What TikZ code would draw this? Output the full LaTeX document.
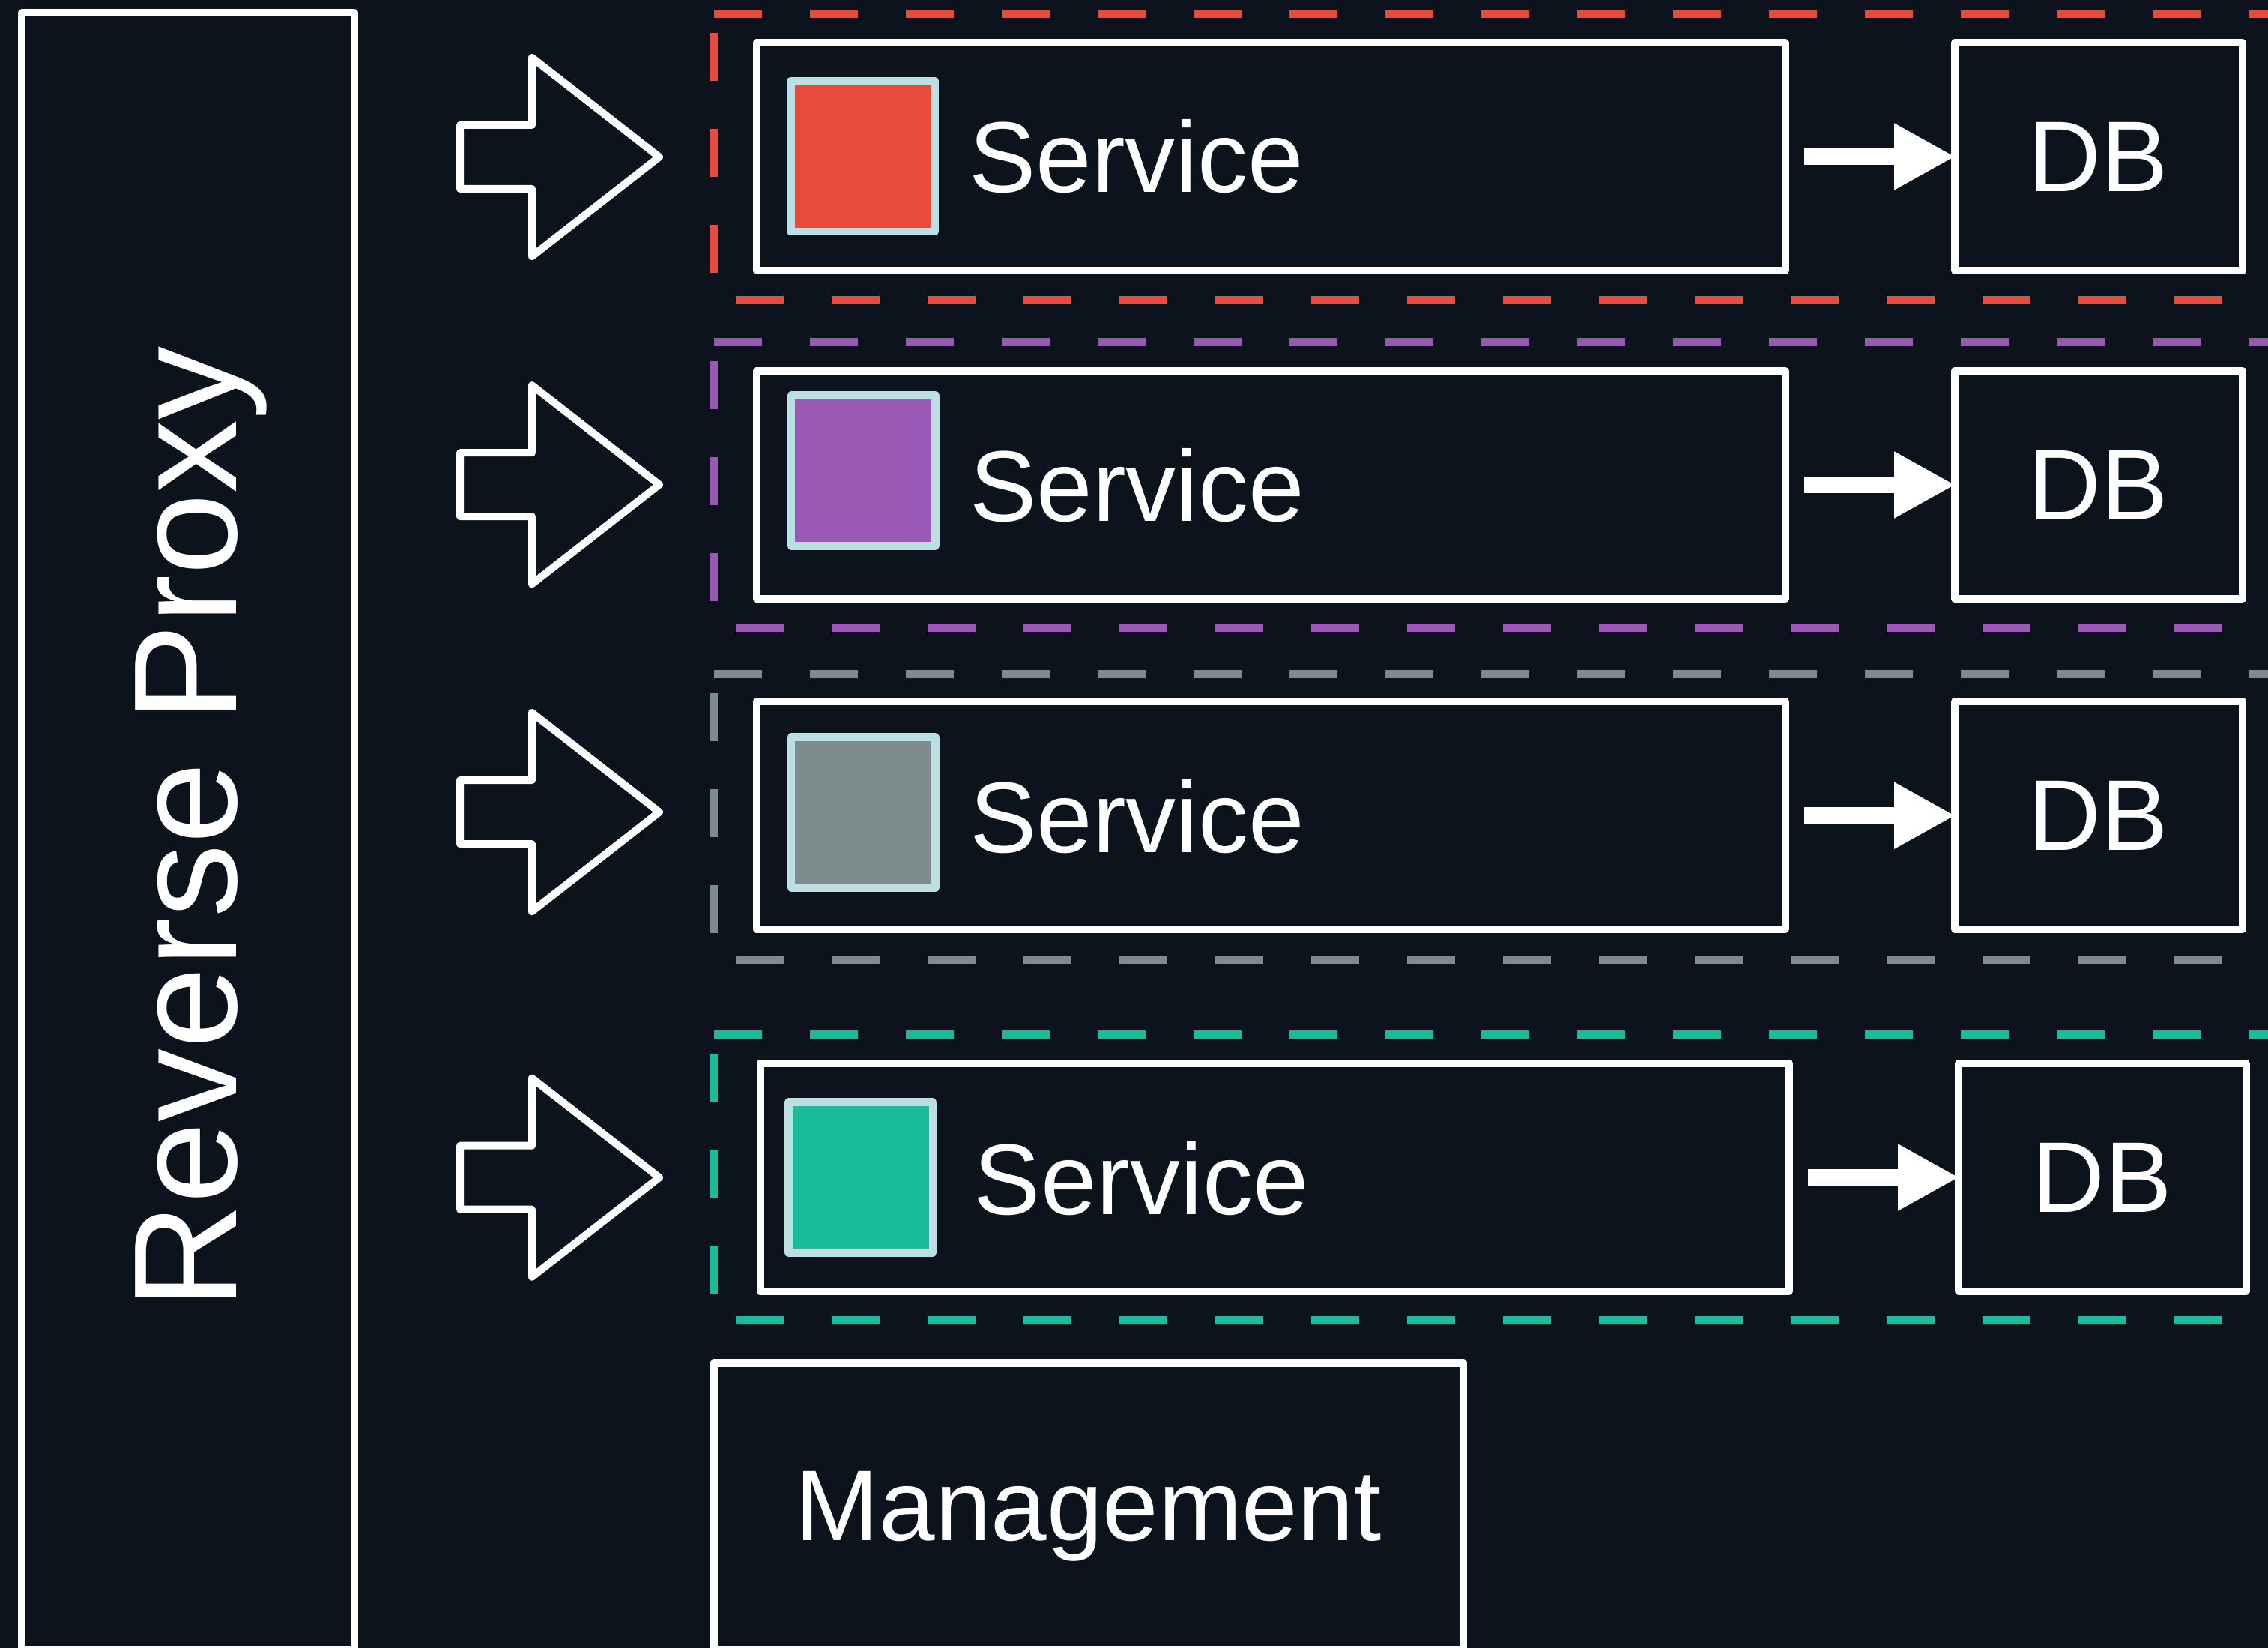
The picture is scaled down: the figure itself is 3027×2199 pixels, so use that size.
\documentclass[tikz,border=0pt]{standalone}
\usepackage{fontspec}
\setmainfont{Liberation Sans}
\usetikzlibrary{arrows.meta}

\definecolor{canvas}{RGB}{12,19,29}
\definecolor{svcred}{HTML}{E74C3C}
\definecolor{svcpurple}{HTML}{9B59B6}
\definecolor{svcgrey}{HTML}{7F8C8D}
\definecolor{svcteal}{HTML}{1ABC9C}
\definecolor{chipedge}{HTML}{BAE0E4}

\begin{document}
\begin{tikzpicture}[x=1pt, y=-1pt,
  box/.style={rectangle, draw=white, line width=10pt, line join=round,
    fill=canvas, inner sep=0pt, outer sep=0pt, text=white},
  svcbox/.style={box, minimum width=1373.5pt, minimum height=304pt},
  dbbox/.style={box, minimum width=384pt, minimum height=304pt,
    font=\fontsize{134}{160}\selectfont, text depth=0pt},
  chipbox/.style={rectangle, draw=chipedge, line width=10.5pt, line join=round,
    minimum width=192.5pt, minimum height=201pt, inner sep=0pt, outer sep=0pt},
  svctext/.style={text=white, font=\fontsize{134}{160}\selectfont,
    inner sep=0pt, anchor=base west},
  zone/.style={line width=10.7pt, dash pattern=on 64pt off 64pt},
  link/.style={draw=white, line width=22pt,
    -{Triangle[length=82pt, width=83pt]},
    shorten <=24.5pt, shorten >=-1pt},
  fatarrow/.pic={
    \draw[white, line width=10pt, line join=round]
      (614,-42.5) -- (710,-42.5) -- (710,-132.5) -- (880,0)
      -- (710,132.5) -- (710,42.5) -- (614,42.5) -- cycle;}
]

% canvas
\useasboundingbox (0,0) rectangle (3027,2199);
\clip (0,0) rectangle (3027,2199);
\fill[canvas] (0,0) rectangle (3027,2199);

% dashed service zones (right side runs past the edge)
\draw[zone, svcred]    (953,19)     -- (3048.75,19)     -- (3048.75,400)    -- (953,400)    -- cycle;
\draw[zone, svcpurple] (953,456.5)  -- (3048.75,456.5)  -- (3048.75,837.5)  -- (953,837.5)  -- cycle;
\draw[zone, svcgrey]   (953,899.5)  -- (3048.75,899.5)  -- (3048.75,1280.5) -- (953,1280.5) -- cycle;
\draw[zone, svcteal]   (953,1380.5) -- (3048.75,1380.5) -- (3048.75,1761.5) -- (953,1761.5) -- cycle;

% reverse proxy
\node[box, minimum width=444pt, minimum height=2184pt] (proxy) at (251,1109) {};
\node[rotate=90, text=white, font=\fontsize{196}{235}\selectfont,
  inner sep=0pt, text depth=0pt] (proxylbl) at (248,1105) {Reverse Proxy};

% hollow block arrows from the proxy
\pic at (0,209.5)  {fatarrow};
\pic at (0,646.7)  {fatarrow};
\pic at (0,1083.6) {fatarrow};
\pic at (0,1571.2) {fatarrow};

% service boxes
\node[svcbox] (svc1) at (1696.25,209)  {};
\node[svcbox] (svc2) at (1696.25,647)  {};
\node[svcbox] (svc3) at (1696.25,1088.25) {};
\node[svcbox] (svc4) at (1701.3,1571)  {};

% coloured chips
\node[chipbox, fill=svcred]    (chip1) at (1151.5,208.5) {};
\node[chipbox, fill=svcpurple] (chip2) at (1152.25,628)  {};
\node[chipbox, fill=svcgrey]   (chip3) at (1152.2,1084)  {};
\node[chipbox, fill=svcteal]   (chip4) at (1148.75,1571) {};

% service labels
\node[svctext] (svclbl1) at (1293,257)  {Service};
\node[svctext] (svclbl2) at (1294,695)  {Service};
\node[svctext] (svclbl3) at (1294,1137) {Service};
\node[svctext] (svclbl4) at (1299.7,1620) {Service};

% databases
\node[dbbox] (db1) at (2801,209)     {DB};
\node[dbbox] (db2) at (2801,647)     {DB};
\node[dbbox] (db3) at (2801,1088.25) {DB};
\node[dbbox] (db4) at (2806,1571)    {DB};

% service -> database
\draw[link] (svc1.east) -- (db1.west);
\draw[link] (svc2.east) -- (db2.west);
\draw[link] (svc3.east) -- (db3.west);
\draw[link] (svc4.east) -- (db4.west);

% management
\node[box, minimum width=1000pt, minimum height=382.5pt,
  font=\fontsize{134}{160}\selectfont, text depth=0pt] (mgmt) at (1453,2009.75) {Management};
\end{tikzpicture}
\end{document}
